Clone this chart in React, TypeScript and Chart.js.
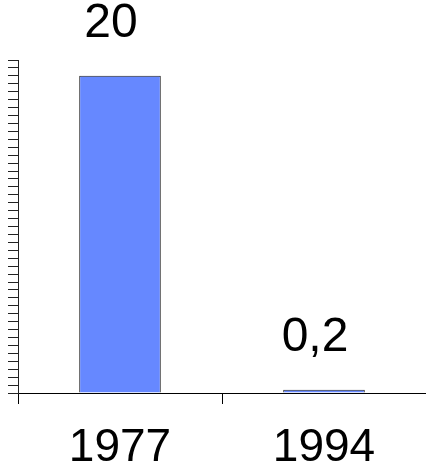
import React, { useEffect, useRef } from "react";
import { Chart, registerables } from "chart.js";

Chart.register(...registerables);

const categories = ["1977", "1994"];
const values = [20, 0.2];
const yMin = 0;
const yMax = 21;
const yStep = 0.5;

const FONT = "'Liberation Sans', Arial, sans-serif";

const dataLabels = {
  id: "dataLabels",
  afterDatasetsDraw(chart: any) {
    const ctx = chart.ctx;
    const meta = chart.getDatasetMeta(0);
    ctx.save();
    ctx.font = `48px ${FONT}`;
    ctx.fillStyle = "#000";
    ctx.textAlign = "center";
    ctx.textBaseline = "alphabetic";
    meta.data.forEach((el: any, i: number) => {
      const v = values[i];
      const txt = String(v).replace(".", ",");
      ctx.fillText(txt, el.x - 9, el.y - 39);
    });
    ctx.restore();
  },
};

export default function App() {
  const ref = useRef<HTMLCanvasElement>(null);
  useEffect(() => {
    const chart = new Chart(ref.current!, {
      type: "bar",
      data: {
        labels: categories,
        datasets: [
          {
            data: values,
            backgroundColor: "#6688ff",
            borderColor: "#222222",
            borderWidth: 1,
            barPercentage: 0.4,
            categoryPercentage: 1,
          },
        ],
      },
      options: {
        animation: false,
        responsive: false,
        maintainAspectRatio: false,
        layout: { padding: { top: 60, left: 8, right: 0, bottom: 0 } },
        plugins: { legend: { display: false }, tooltip: { enabled: false } },
        scales: {
          x: {
            grid: {
              offset: true,
              drawOnChartArea: false,
              tickLength: 11,
              color: "#000",
            },
            border: { color: "#000", width: 1 },
            ticks: {
              color: "#000",
              padding: 21,
              font: { family: FONT, size: 46, lineHeight: 1 },
              maxRotation: 0,
            },
          },
          y: {
            min: yMin,
            max: yMax,
            grid: {
              drawOnChartArea: false,
              tickLength: 10,
              color: "#222",
            },
            border: { color: "#222", width: 1 },
            ticks: { display: false, stepSize: yStep, autoSkip: false },
          },
        },
      },
      plugins: [dataLabels],
    });
    return () => chart.destroy();
  }, []);
  return (
    <div style={{ position: "fixed", left: 0, top: 0, width: 426, height: 474, overflow: "hidden", background: "#fff" }}>
      <canvas ref={ref} width={426} height={492} style={{ width: 426, height: 492, display: "block" }} />
    </div>
  );
}
